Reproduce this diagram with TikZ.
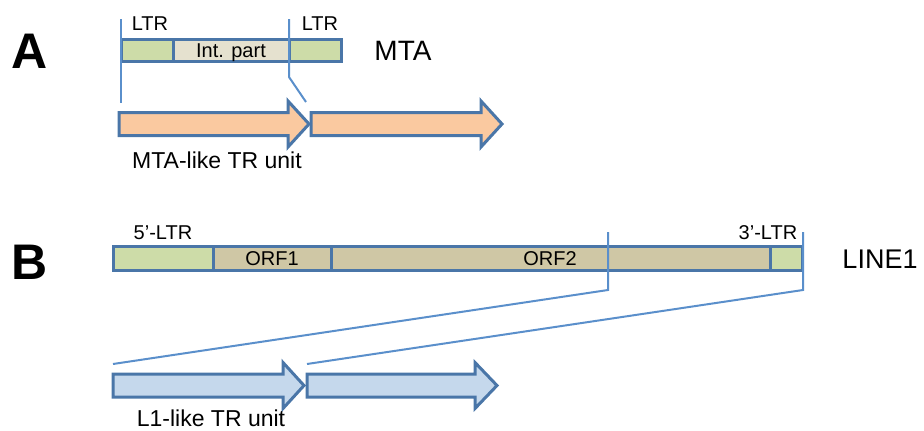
\documentclass[tikz,border=0pt]{standalone}
\usepackage{fontspec}
\setmainfont{Liberation Sans}
\definecolor{outl}{HTML}{4A76A8}
\definecolor{conn}{HTML}{5A8FCB}
\definecolor{ltrgreen}{HTML}{CDDCA8}
\definecolor{intfill}{HTML}{E5E1CF}
\definecolor{orffill}{HTML}{CFC7A5}
\definecolor{orangefill}{HTML}{FAC9A0}
\definecolor{bluefill}{HTML}{C5D8EC}
\begin{document}
\begin{tikzpicture}[x=1pt,y=-1pt,
  seg/.style={draw=outl, line width=3pt, rectangle, inner sep=0pt, minimum height=#1},
  seg/.default=22pt,
  conline/.style={draw=conn, line width=2pt},
  unitarrow/.style={draw=outl, line width=3pt, line join=miter},
  small/.style={font=\fontsize{20}{22}\selectfont, anchor=base},
  mid/.style={font=\fontsize{23}{26}\selectfont, anchor=base},
  big/.style={font=\fontsize{27}{30}\selectfont, anchor=base},
  panel/.style={font=\fontsize{50}{54}\selectfont\bfseries, anchor=base}]
\useasboundingbox (0,0) rectangle (924,431);

% ---------- Panel A ----------
\node[panel] (labA) at (30,68) {A};
\node[seg, fill=ltrgreen, minimum width=52pt] (ltrA1) at (147,50.5) {};
\node[seg, fill=intfill, minimum width=116pt] (intA) at (231,50.5) {};
\node[seg, fill=ltrgreen, minimum width=52pt] (ltrA2) at (315,50.5) {};
\node[small] (intlab) at (231,57.5) {Int. part};
\node[small] (ltrlab1) at (150,30) {LTR};
\node[small] (ltrlab2) at (320,30) {LTR};
\node[font=\fontsize{28}{30}\selectfont, anchor=base] (mta) at (403,60) {MTA};

\coordinate (a1t) at (121,19);
\coordinate (a1b) at (121,103);
\coordinate (a2t) at (289,19);
\coordinate (a2k) at (289,77);
\coordinate (a2b) at (306,102);
\draw[conline] (a1t) -- (a1b);
\draw[conline] (a2t) -- (a2k) -- (a2b);

\draw[unitarrow, fill=orangefill] (119,112.5) -- (288,112.5) -- (288,101) -- (309,124) -- (288,147) -- (288,135.5) -- (119,135.5) -- cycle;
\draw[unitarrow, fill=orangefill] (311,112.5) -- (481,112.5) -- (481,101) -- (502,124) -- (481,147) -- (481,135.5) -- (311,135.5) -- cycle;
\node[mid] (mtaunit) at (217,168) {MTA-like TR unit};

% ---------- Panel B ----------
\node[panel] (labB) at (30,279) {B};
\node[seg=24pt, fill=ltrgreen, minimum width=100pt] (ltr5) at (163,258.5) {};
\node[seg=24pt, fill=orffill, minimum width=118pt] (orf1) at (272,258.5) {};
\node[seg=24pt, fill=orffill, minimum width=439pt] (orf2) at (550.5,258.5) {};
\node[seg=24pt, fill=ltrgreen, minimum width=32pt] (ltr3) at (786,258.5) {};
\node[small] (orf1lab) at (272,265.5) {ORF1};
\node[small] (orf2lab) at (550,265.5) {ORF2};
\node[small] (ltr5lab) at (163,239) {5’-LTR};
\node[small] (ltr3lab) at (768,239) {3’-LTR};
\node[big] (line1) at (880,268) {LINE1};

\coordinate (b1t) at (608,232);
\coordinate (b1k) at (608,290);
\coordinate (b1e) at (113,364);
\coordinate (b2t) at (803,232);
\coordinate (b2k) at (803,290);
\coordinate (b2e) at (307,364);
\draw[conline] (b1t) -- (b1k) -- (b1e);
\draw[conline] (b2t) -- (b2k) -- (b2e);

\draw[unitarrow, fill=bluefill] (113,374) -- (283,374) -- (283,362.5) -- (304,385.5) -- (283,408.5) -- (283,397) -- (113,397) -- cycle;
\draw[unitarrow, fill=bluefill] (307,374) -- (475,374) -- (475,362.5) -- (497,385.5) -- (475,408.5) -- (475,397) -- (307,397) -- cycle;
\node[mid] (l1unit) at (211,426) {L1-like TR unit};
\end{tikzpicture}
\end{document}
